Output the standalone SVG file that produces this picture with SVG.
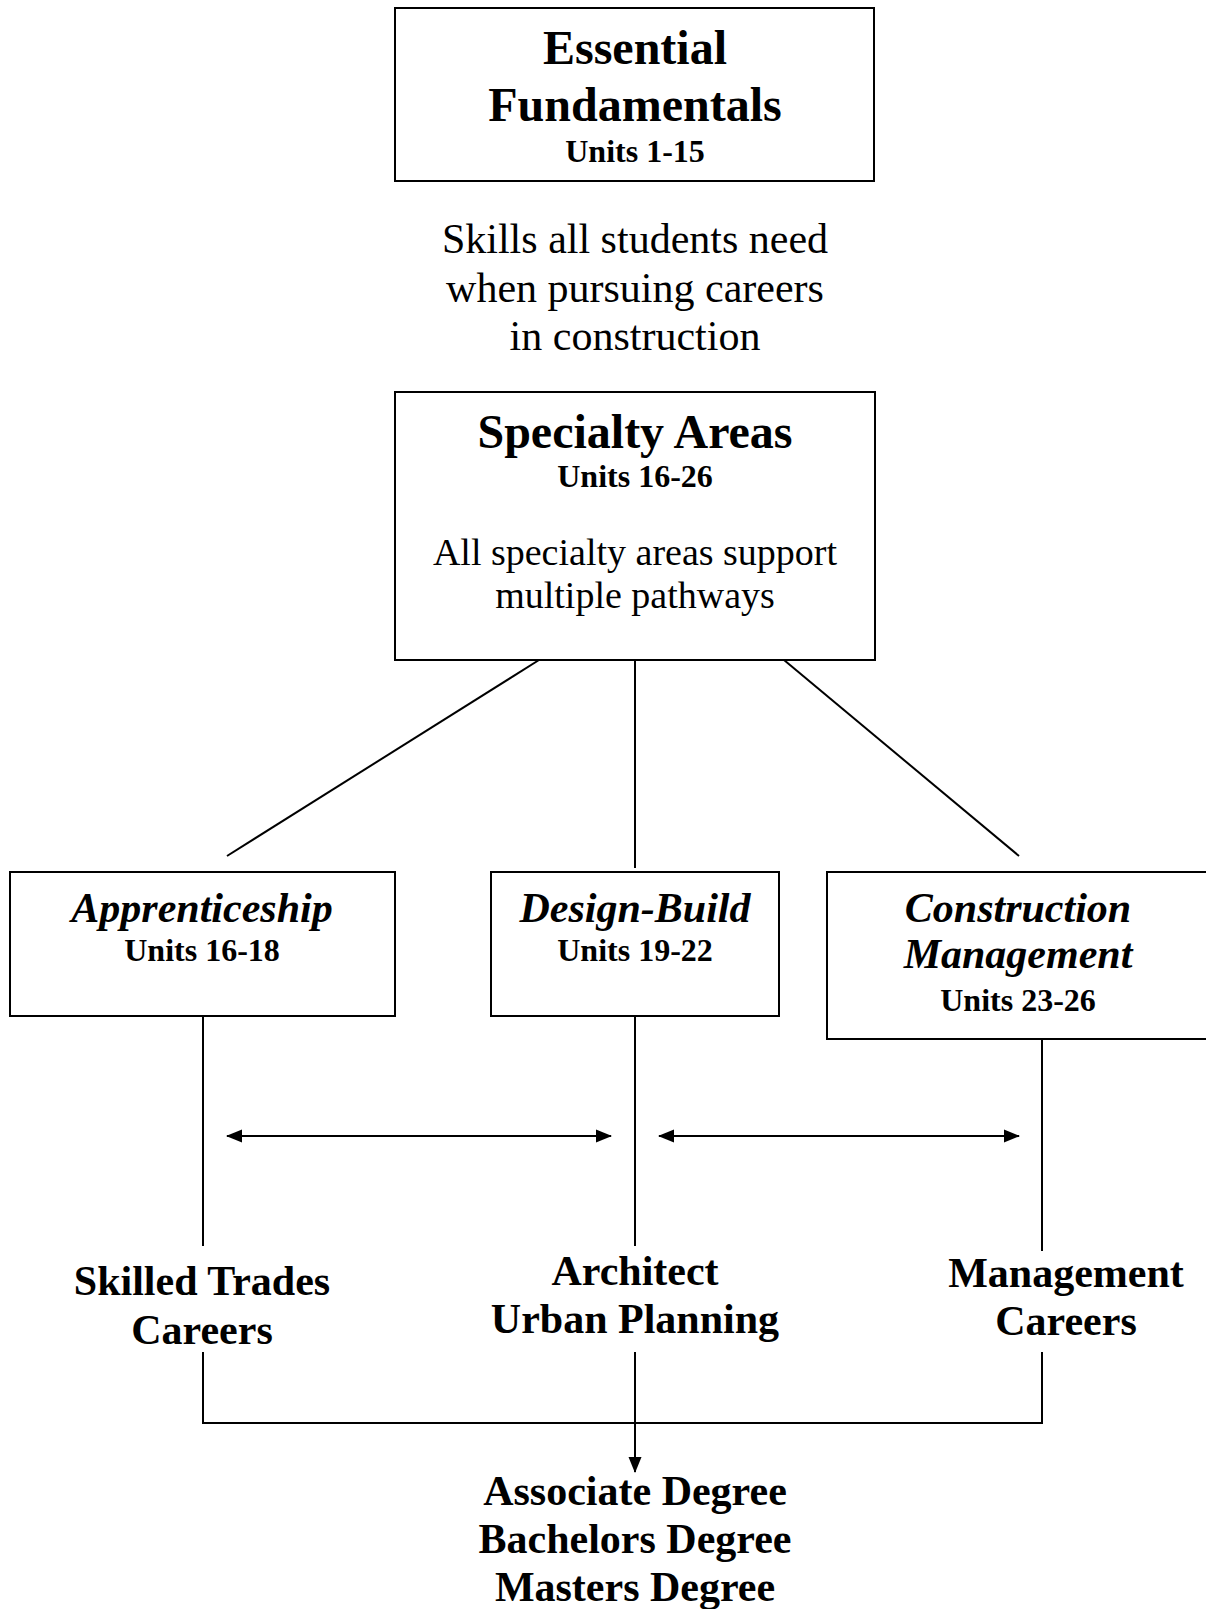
<svg xmlns="http://www.w3.org/2000/svg" width="1206" height="1609" viewBox="0 0 1206 1609">
<defs>
<marker id="ah" viewBox="0 0 16 14" refX="15" refY="7" markerWidth="16" markerHeight="14" markerUnits="userSpaceOnUse" orient="auto-start-reverse">
<path d="M0,0.5 L16,7 L0,13.5 z" fill="#000"/>
</marker>
<style>
.box{fill:#fff;stroke:#000;stroke-width:2}
.ln{fill:none;stroke:#000;stroke-width:2}
text{font-family:"Liberation Serif","Times New Roman",serif;fill:#000;text-anchor:middle}
.t48{font-size:48px;font-weight:bold}
.u{font-size:32px;font-weight:bold}
.bi{font-size:42px;font-weight:bold;font-style:italic}
.b42{font-size:42px;font-weight:bold}
.r42{font-size:42px}
.r38{font-size:38px}
</style>
</defs>
<rect width="1206" height="1609" fill="#fff"/>

<g id="connectors">
<line class="ln" x1="539" y1="660" x2="227" y2="856"/>
<line class="ln" x1="635" y1="660" x2="635" y2="868"/>
<line class="ln" x1="784" y1="660" x2="1019" y2="856"/>
<line class="ln" x1="203" y1="1016" x2="203" y2="1246"/>
<line class="ln" x1="635" y1="1016" x2="635" y2="1246"/>
<line class="ln" x1="1042" y1="1039" x2="1042" y2="1251"/>
<line class="ln" x1="227" y1="1136" x2="611" y2="1136" marker-start="url(#ah)" marker-end="url(#ah)"/>
<line class="ln" x1="659" y1="1136" x2="1019" y2="1136" marker-start="url(#ah)" marker-end="url(#ah)"/>
<polyline class="ln" points="203,1352 203,1423 1042,1423 1042,1352"/>
<line class="ln" x1="635" y1="1352" x2="635" y2="1472" marker-end="url(#ah)"/>
</g>

<g id="essential">
<rect class="box" x="395" y="8" width="479" height="173"/>
<text class="t48" x="635" y="64">Essential</text>
<text class="t48" x="635" y="121">Fundamentals</text>
<text class="u" x="635" y="162">Units 1-15</text>
</g>

<g id="skills-note">
<text class="r42" x="635" y="253">Skills all students need</text>
<text class="r42" x="635" y="302">when pursuing careers</text>
<text class="r42" x="635" y="350">in construction</text>
</g>

<g id="specialty">
<rect class="box" x="395" y="392" width="480" height="268"/>
<text class="t48" x="635" y="448">Specialty Areas</text>
<text class="u" x="635" y="487">Units 16-26</text>
<text class="r38" x="635" y="565">All specialty areas support</text>
<text class="r38" x="635" y="608">multiple pathways</text>
</g>

<g id="apprenticeship">
<rect class="box" x="10" y="872" width="385" height="144"/>
<text class="bi" x="202" y="922">Apprenticeship</text>
<text class="u" x="202" y="961">Units 16-18</text>
</g>

<g id="design-build">
<rect class="box" x="491" y="872" width="288" height="144"/>
<text class="bi" x="635" y="922">Design-Build</text>
<text class="u" x="635" y="961">Units 19-22</text>
</g>

<g id="construction-management">
<rect class="box" x="827" y="872" width="400" height="167"/>
<text class="bi" x="1018" y="922">Construction</text>
<text class="bi" x="1018" y="968">Management</text>
<text class="u" x="1018" y="1011">Units 23-26</text>
</g>

<g id="skilled-trades">
<text class="b42" x="202" y="1295">Skilled Trades</text>
<text class="b42" x="202" y="1344">Careers</text>
</g>

<g id="architect">
<text class="b42" x="635" y="1285">Architect</text>
<text class="b42" x="635" y="1333">Urban Planning</text>
</g>

<g id="management">
<text class="b42" x="1066" y="1287">Management</text>
<text class="b42" x="1066" y="1335">Careers</text>
</g>

<g id="degrees">
<text class="b42" x="635" y="1505">Associate Degree</text>
<text class="b42" x="635" y="1553">Bachelors Degree</text>
<text class="b42" x="635" y="1601">Masters Degree</text>
</g>
</svg>
